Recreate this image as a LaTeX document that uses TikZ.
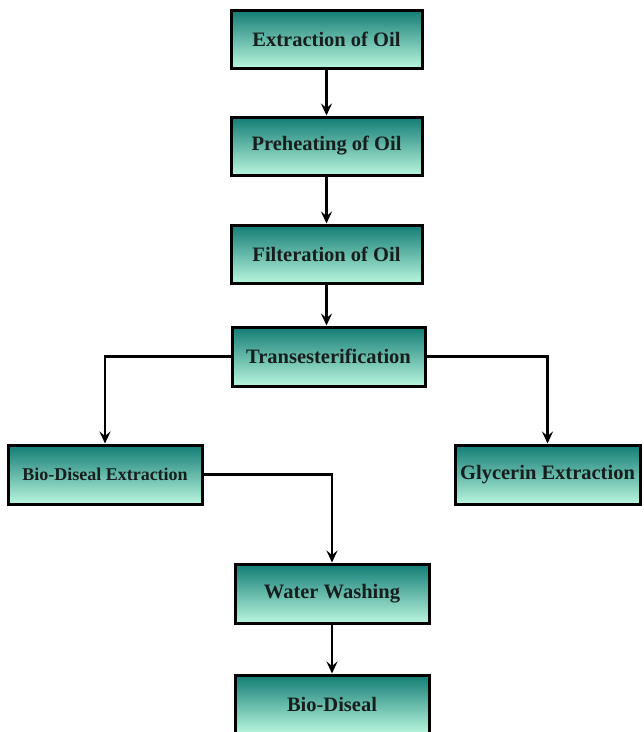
\documentclass[tikz,border=0pt]{standalone}
\usepackage{fontspec}
\setmainfont{Liberation Serif}
\usetikzlibrary{arrows.meta}
\definecolor{boxtop}{RGB}{18,124,116}
\definecolor{boxbot}{RGB}{185,246,222}
\definecolor{boxtext}{RGB}{22,30,30}
\tikzset{
  stepbox/.style={draw=black, line width=3pt, top color=boxtop, bottom color=boxbot,
    font=\bfseries\fontsize{20.5}{22}\selectfont, text=boxtext, inner sep=0pt},
  flow/.style={draw=black, line width=2.6pt, -{Stealth[length=12pt,width=11pt,inset=4.5pt]}},
}
\begin{document}
\begin{tikzpicture}[x=1pt,y=-1pt]
\useasboundingbox (0,0) rectangle (644,732);
\node[stepbox, minimum width=191pt, minimum height=58pt] (ext) at (326.5,39) {Extraction of Oil};
\node[stepbox, minimum width=191pt, minimum height=58pt] (pre) at (326.5,146) {Preheating of Oil};
\node[stepbox, minimum width=191pt, minimum height=58pt] (fil) at (326.5,254) {Filteration of Oil};
\node[stepbox, minimum width=193pt, minimum height=59pt] (tra) at (328.5,356.5) {Transesterification};
\node[stepbox, minimum width=194pt, minimum height=59pt, font=\bfseries\fontsize{18}{20}\selectfont] (bde) at (105,474.5) {Bio-Diseal Extraction};
\node[stepbox, minimum width=185pt, minimum height=59pt] (gly) at (547.5,474.5) {Glycerin Extraction};
\node[stepbox, minimum width=194pt, minimum height=59pt] (wat) at (332,593.5) {Water Washing};
\node[stepbox, minimum width=194pt, minimum height=58pt] (bio) at (332,704) {Bio-Diseal};
\draw[flow] (ext) -- (pre);
\draw[flow] (pre) -- (fil);
\draw[flow] (fil.south) -- (fil.south |- tra.north);
\draw[flow] (tra.west) -| (bde.north);
\draw[flow] (tra.east) -| (gly.north);
\draw[flow] (bde.east) -| (wat.north);
\draw[flow] (wat) -- (bio);
\end{tikzpicture}
\end{document}
